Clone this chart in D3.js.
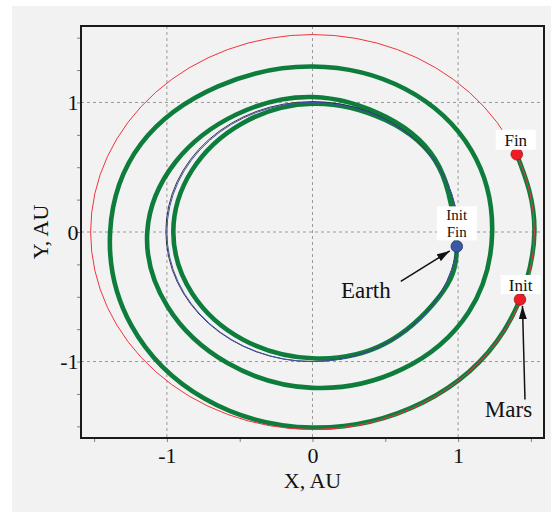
<!DOCTYPE html>
<html>
<head>
<meta charset="utf-8">
<script src="https://cdn.jsdelivr.net/npm/d3@7"></script>
<style>
  html, body { margin: 0; padding: 0; background: #ffffff; }
  svg { display: block; }
  text { font-family: "Liberation Serif", "Times New Roman", serif; fill: #111; }
</style>
</head>
<body>
<svg id="chart" width="551" height="512"></svg>
<script>
// Axis ranges and ticks (AU)
const axisDomain = [-1.59, 1.59];
const gridValues = [-1, 0, 1];
const xTickValues = [-1.5, -1, -0.5, 0, 0.5, 1, 1.5];
const yTickValues = [-1.5, -1.25, -1, -0.75, -0.5, -0.25, 0, 0.25, 0.5, 0.75, 1, 1.25, 1.5];
const labeledTicks = [-1, 0, 1];

// Planet orbit radii (AU)
const earthOrbitRadius = 1.0;
const marsOrbitRadius = 1.524;

// Transfer trajectory: polar angle (deg, cumulative) and radius (AU)
const transferAngle = [-6.4, 30, 60, 90, 120, 150, 180, 210, 240, 270, 300, 330, 353.6,
  390, 420, 450, 480, 510, 540, 570, 600, 630, 660, 690, 720,
  750, 780, 810, 840, 870, 900, 930, 960, 990, 1020, 1050, 1080, 1103.2];
const transferRadius = [0.997, 1.002, 0.998, 0.990, 0.968, 0.955, 0.956, 0.953, 0.958, 0.975, 0.995, 1.003, 0.997,
  1.006, 1.022, 1.042, 1.047, 1.085, 1.135, 1.150, 1.168, 1.203, 1.225, 1.238, 1.234,
  1.260, 1.274, 1.277, 1.298, 1.360, 1.390, 1.438, 1.485, 1.510, 1.518, 1.520, 1.524, 1.526];

// Planet positions (AU)
const earthPos = [0.991, -0.111];
const marsInitPos = [1.425, -0.521];
const marsFinPos = [1.403, 0.600];

const svg = d3.select("#chart");
const x = d3.scaleLinear().domain(axisDomain).range([81, 544]);
const y = d3.scaleLinear().domain(axisDomain).range([438, 26]);

// panel background
svg.append("rect").attr("x", 12).attr("y", 6).attr("width", 539).attr("height", 506).attr("fill", "#f2f2f2");

const defs = svg.append("defs");
defs.append("clipPath").attr("id", "plotClip")
  .append("rect").attr("x", x(axisDomain[0])).attr("y", y(axisDomain[1]))
  .attr("width", x(axisDomain[1]) - x(axisDomain[0])).attr("height", y(axisDomain[0]) - y(axisDomain[1]));

// grid
const grid = svg.append("g").attr("stroke", "#9a9a9a").attr("stroke-width", 1).attr("stroke-dasharray", "3,3");
grid.selectAll("line.gx").data(gridValues).join("line").attr("class", "gx")
  .attr("x1", d => x(d)).attr("x2", d => x(d)).attr("y1", y(axisDomain[1])).attr("y2", y(axisDomain[0]));
grid.selectAll("line.gy").data(gridValues).join("line").attr("class", "gy")
  .attr("y1", d => y(d)).attr("y2", d => y(d)).attr("x1", x(axisDomain[0])).attr("x2", x(axisDomain[1]));

// axes
const fmt = d => labeledTicks.includes(d) ? String(d) : "";
const xAxis = svg.append("g").attr("transform", `translate(0,${y(axisDomain[0])})`)
  .call(d3.axisBottom(x).tickValues(xTickValues).tickSize(4).tickPadding(5).tickFormat(fmt));
const yAxis = svg.append("g").attr("transform", `translate(${x(axisDomain[0])},0)`)
  .call(d3.axisLeft(y).tickValues(yTickValues).tickSize(4).tickPadding(-1.5).tickFormat(fmt));
[xAxis, yAxis].forEach(a => {
  a.select(".domain").remove();
  a.selectAll(".tick line").attr("stroke", "#808080");
  a.selectAll("text").attr("font-family", "Liberation Serif").attr("font-size", 22).attr("fill", "#111");
});

const plot = svg.append("g").attr("clip-path", "url(#plotClip)");

// transfer trajectory
const pts = transferAngle.map((a, i) => {
  const t = a * Math.PI / 180;
  return [transferRadius[i] * Math.cos(t), transferRadius[i] * Math.sin(t)];
});
const line = d3.line().x(d => x(d[0])).y(d => y(d[1])).curve(d3.curveNatural);
plot.append("path").attr("d", line(pts)).attr("fill", "none")
  .attr("stroke", "#0e7d3c").attr("stroke-width", 4.6).attr("stroke-linejoin", "round").attr("stroke-linecap", "round");

// Earth orbit (black trace under the blue one)
plot.append("ellipse").attr("cx", x(-0.004)).attr("cy", y(0.003))
  .attr("rx", x(earthOrbitRadius * 1.003) - x(0)).attr("ry", y(0) - y(earthOrbitRadius * 1.003))
  .attr("fill", "none").attr("stroke", "#222").attr("stroke-width", 0.9);
plot.append("ellipse").attr("cx", x(0)).attr("cy", y(0))
  .attr("rx", x(earthOrbitRadius) - x(0)).attr("ry", y(0) - y(earthOrbitRadius))
  .attr("fill", "none").attr("stroke", "#4450b0").attr("stroke-width", 1);

// Mars orbit
plot.append("ellipse").attr("cx", x(0)).attr("cy", y(0))
  .attr("rx", x(marsOrbitRadius) - x(0)).attr("ry", y(0) - y(marsOrbitRadius))
  .attr("fill", "none").attr("stroke", "#f03440").attr("stroke-width", 1);

// frame
svg.append("rect").attr("x", x(axisDomain[0])).attr("y", y(axisDomain[1]))
  .attr("width", x(axisDomain[1]) - x(axisDomain[0])).attr("height", y(axisDomain[0]) - y(axisDomain[1]))
  .attr("fill", "none").attr("stroke", "#1a1a1a").attr("stroke-width", 2);

// arrows
defs.append("marker").attr("id", "arrowHead")
  .attr("viewBox", "0 0 13 8").attr("refX", 13).attr("refY", 4)
  .attr("markerWidth", 13).attr("markerHeight", 8).attr("markerUnits", "userSpaceOnUse")
  .attr("orient", "auto")
  .append("path").attr("d", "M0,0 L13,4 L0,8 Z").attr("fill", "#111");

const ex = x(earthPos[0]), ey = y(earthPos[1]);
svg.append("line").attr("x1", ex - 56).attr("y1", ey + 35).attr("x2", ex - 7).attr("y2", ey + 4.5)
  .attr("stroke", "#111").attr("stroke-width", 1.5).attr("marker-end", "url(#arrowHead)");
const mx = x(marsInitPos[0]), my = y(marsInitPos[1]);
svg.append("line").attr("x1", mx + 5).attr("y1", my + 100).attr("x2", mx + 2.5).attr("y2", my + 6.5)
  .attr("stroke", "#111").attr("stroke-width", 1.5).attr("marker-end", "url(#arrowHead)");

// planet markers
const dots = [
  { p: earthPos, fill: "#3a58a6", stroke: "#23366e" },
  { p: marsInitPos, fill: "#ec1c24", stroke: "#a01018" },
  { p: marsFinPos, fill: "#ec1c24", stroke: "#a01018" }
];
svg.selectAll("circle.planet").data(dots).join("circle").attr("class", "planet")
  .attr("cx", d => x(d.p[0])).attr("cy", d => y(d.p[1])).attr("r", 5.8)
  .attr("fill", d => d.fill).attr("stroke", d => d.stroke).attr("stroke-width", 0.8);

// boxed Init / Fin labels
function boxLabel(cx, top, w, h, lines, size, firstBaseline, lineStep) {
  svg.append("rect").attr("x", cx - w / 2).attr("y", top).attr("width", w).attr("height", h).attr("fill", "#ffffff");
  const t = svg.append("text").attr("text-anchor", "middle").attr("font-size", size);
  lines.forEach((s, i) => {
    t.append("tspan").attr("x", cx).attr("y", top + firstBaseline + i * lineStep).text(s);
  });
}
boxLabel(ex, ey - 40, 40, 34, ["Init", "Fin"], 15, 13.5, 16.8);
boxLabel(x(marsFinPos[0]) - 1, y(marsFinPos[1]) - 24.5, 40, 20, ["Fin"], 17, 16, 0);
boxLabel(mx + 0.7, my - 24.5, 40, 19, ["Init"], 17, 16, 0);

// planet names
svg.append("text").attr("x", ex - 91).attr("y", ey + 51.5).attr("text-anchor", "middle").attr("font-size", 23).text("Earth");
svg.append("text").attr("x", mx - 11.5).attr("y", my + 117).attr("text-anchor", "middle").attr("font-size", 23).text("Mars");

// axis titles
svg.append("text").attr("x", x(0)).attr("y", 488).attr("text-anchor", "middle").attr("font-size", 22).text("X, AU");
svg.append("text").attr("transform", `translate(48.3,${y(0)}) rotate(-90)`).attr("text-anchor", "middle")
  .attr("font-size", 22).text("Y, AU");
</script>
</body>
</html>
